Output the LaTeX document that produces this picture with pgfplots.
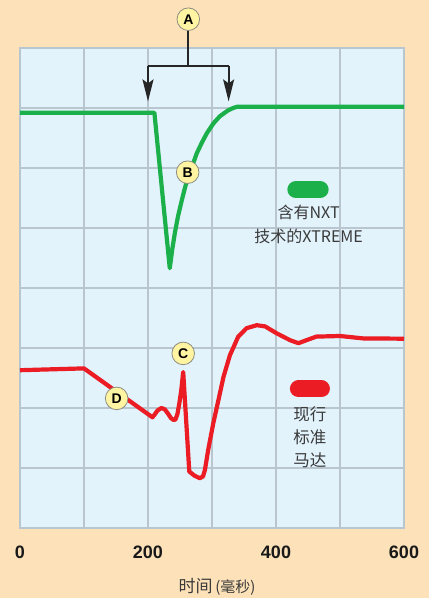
\documentclass[border=0pt]{standalone}
\usepackage{fontspec}
\usepackage{pgfplots}
\pgfplotsset{compat=1.18}
\usetikzlibrary{arrows.meta}
\newfontfamily\arialfont{Liberation Sans}
\newfontfamily\cjk{Noto Sans CJK SC}

\definecolor{pagebg}{HTML}{FDE2B9}
\definecolor{plotbg}{HTML}{E2F3FC}
\definecolor{gridc}{HTML}{B9C5CF}
\definecolor{mygreen}{HTML}{1BB04A}
\definecolor{myred}{HTML}{EC1C24}
\definecolor{circfill}{HTML}{FFF4A2}
\definecolor{circline}{HTML}{8C8C80}
\definecolor{txt}{HTML}{3A3A3A}

\begin{document}
\begin{tikzpicture}[
  marker/.style={circle, fill=circfill, draw=circline, line width=0.8pt,
    minimum size=22.6pt, inner sep=0pt,
    font=\arialfont\bfseries\fontsize{14}{14}\selectfont}]
\fill[pagebg] (-20pt,-70pt) rectangle (409pt,528pt);
\begin{axis}[
  at={(0,0)}, anchor=south west,
  scale only axis, width=384pt, height=480pt,
  xmin=0, xmax=600, ymin=0, ymax=8,
  xtick={0,100,...,600}, xticklabels={0,,200,,400,,600},
  ytick={0,1,...,8}, yticklabels={},
  major tick length=0pt,
  grid=major,
  major grid style={draw=gridc, line width=1.3pt},
  axis line style={draw=gridc, line width=1.3pt},
  axis background/.style={fill=plotbg},
  clip=false,
  xticklabel style={font=\arialfont\bfseries\fontsize{18}{18}\selectfont,
    text=black!90, anchor=center, yshift=-24pt},
  xlabel={时间\,{\fontsize{15}{15}\selectfont(毫秒)}},
  xlabel style={font=\cjk\fontsize{17}{17}\selectfont, text=txt,
    at={(axis description cs:0.513,0)}, anchor=center, yshift=-58.5pt},
]
% green: with NXT
\addplot[mygreen, line width=4.2pt, line join=round] coordinates {
  (0,6.92) (210,6.92) (234,4.33) (238,4.65) (242,4.92) (247,5.2)
  (253,5.47) (258,5.68) (263,5.86) (270,6.06) (276,6.24) (284,6.42)
  (292,6.58) (302,6.74) (312,6.86) (325,6.96) (333,7.0) (339,7.02)
  (600,7.02)
};
% red: standard motor
\addplot[myred, line width=4.2pt, line join=round] coordinates {
  (0,2.63) (100,2.66) (207,1.845) (211,1.9) (215,1.96) (221,2.0)
  (226,1.98) (231,1.91) (236,1.83) (240,1.80) (243,1.81) (246,1.9)
  (249,2.08) (252,2.3) (255,2.6) (264.5,0.94) (273,0.87) (281,0.83)
  (286,0.86) (289,0.97) (294,1.30) (302,1.745) (310,2.13) (318,2.52)
  (328,2.88) (341,3.19) (354,3.33) (370,3.38) (383,3.36) (401,3.245)
  (422,3.13) (435,3.08) (445,3.12) (463,3.19) (500,3.2) (536,3.16)
  (600,3.155)
};
% bracket with arrows
\draw[black!85, line width=1.8pt] (axis cs:263,8.3) -- (axis cs:263,7.705);
\draw[black!85, line width=1.8pt] (axis cs:200,7.705) -- (axis cs:326,7.705);
\draw[black!85, line width=1.8pt, -{Stealth[length=22pt, width=11pt, inset=4pt]}]
  (axis cs:200,7.705) -- (axis cs:200,7.11);
\draw[black!85, line width=1.8pt, -{Stealth[length=22pt, width=11pt, inset=4pt]}]
  (axis cs:326,7.705) -- (axis cs:326,7.11);
% markers
\node[marker] at (axis cs:263,8.48) {A};
\node[marker] at (axis cs:262,5.93) {B};
\node[marker] at (axis cs:255,2.91) {C};
\node[marker] at (axis cs:151,2.16) {D};
% legend pills and text
\draw[mygreen, line width=17pt, line cap=round] (axis cs:431,5.64) -- (axis cs:469,5.64);
\node[font=\cjk\fontsize{16}{24}\selectfont, text=txt, align=center, anchor=north]
  at (axis cs:451,5.45) {含有NXT\\技术的XTREME};
\draw[myred, line width=17pt, line cap=round] (axis cs:435,2.32) -- (axis cs:471,2.32);
\node[font=\cjk\fontsize{16.5}{23}\selectfont, text=txt, align=center, anchor=north]
  at (axis cs:453,2.08) {现行\\标准\\马达};
\end{axis}
\pgfresetboundingbox
\path[use as bounding box] (-20pt,-70pt) rectangle (409pt,528pt);
\end{tikzpicture}
\end{document}
